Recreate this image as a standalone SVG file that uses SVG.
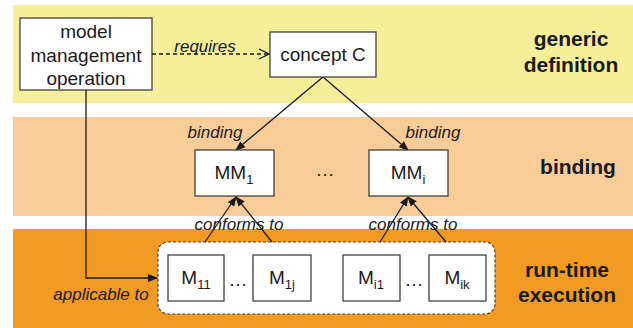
<svg xmlns="http://www.w3.org/2000/svg" width="633" height="328" viewBox="0 0 633 328">
<style>
.box{fill:#fff;stroke:#333;stroke-width:1.2}
.t{font-family:"Liberation Sans",Arial,sans-serif;fill:#1a1a1a;text-anchor:middle}
.n{font-size:19px}
.lab{font-size:17px;font-style:italic}
.band{font-size:21px;font-weight:bold}
.sub{font-size:13px}
.ln{stroke:#1a1a1a;stroke-width:1.3;fill:none}
</style>
<defs>
<marker id="fa" markerWidth="10" markerHeight="8" refX="9" refY="4" orient="auto" markerUnits="userSpaceOnUse">
<path d="M0,0 L10,4 L0,8 Z" fill="#1a1a1a"/>
</marker>
<marker id="oa" markerWidth="12" markerHeight="12" refX="11" refY="6" orient="auto" markerUnits="userSpaceOnUse">
<path d="M1,1 L11,6 L1,11" fill="none" stroke="#1a1a1a" stroke-width="1.3"/>
</marker>
</defs>
<g id="bands">
<rect x="13" y="5" width="620" height="98" fill="#F5EF9A"/>
<rect x="13" y="117" width="620" height="99" fill="#FACC98"/>
<rect x="13" y="229" width="620" height="99" fill="#F39A22"/>
<text class="t band" x="571" y="46">generic</text>
<text class="t band" x="571" y="72">definition</text>
<text class="t band" x="578" y="174">binding</text>
<text class="t band" x="567" y="277">run-time</text>
<text class="t band" x="567" y="302">execution</text>
</g>
<g id="container">
<rect x="158" y="242" width="337" height="72" rx="10" fill="#fff" stroke="#444" stroke-width="1.2" stroke-dasharray="3,2"/>
</g>
<g id="connectors">
<line class="ln" x1="152" y1="54" x2="269" y2="54" stroke-dasharray="4,3" marker-end="url(#oa)"/>
<text class="t lab" x="205" y="52">requires</text>
<line class="ln" x1="323" y1="77" x2="236" y2="150" marker-end="url(#fa)"/>
<line class="ln" x1="323" y1="77" x2="408" y2="150" marker-end="url(#fa)"/>
<text class="t lab" x="215" y="138">binding</text>
<text class="t lab" x="433" y="138">binding</text>
<line class="ln" x1="205" y1="242" x2="236" y2="197" marker-end="url(#fa)"/>
<line class="ln" x1="272" y1="242" x2="236" y2="197" marker-end="url(#fa)"/>
<line class="ln" x1="380" y1="242" x2="408" y2="197" marker-end="url(#fa)"/>
<line class="ln" x1="446" y1="242" x2="408" y2="197" marker-end="url(#fa)"/>
<text class="t lab" x="239" y="230">conforms to</text>
<text class="t lab" x="413" y="230">conforms to</text>
<path class="ln" d="M86,90 V278 H157" marker-end="url(#fa)"/>
<text class="t lab" x="101" y="300">applicable to</text>
</g>
<g id="op">
<rect class="box" x="20" y="18" width="132" height="72"/>
<text class="t n" x="86" y="38">model</text>
<text class="t n" x="86" y="62">management</text>
<text class="t n" x="86" y="85">operation</text>
</g>
<g id="conceptC">
<rect class="box" x="270" y="32" width="106" height="45"/>
<text class="t n" x="323" y="61">concept C</text>
</g>
<g id="MM1">
<rect class="box" x="195" y="150" width="79" height="46"/>
<text class="t n" x="234" y="179">MM<tspan class="sub" dy="5">1</tspan></text>
</g>
<text class="t n" x="325" y="176">…</text>
<g id="MMi">
<rect class="box" x="369" y="150" width="79" height="46"/>
<text class="t n" x="408" y="179">MM<tspan class="sub" dy="5">i</tspan></text>
</g>
<g id="M11">
<rect class="box" x="168" y="255" width="56" height="46"/>
<text class="t n" x="196" y="284">M<tspan class="sub" dy="5">11</tspan></text>
</g>
<text class="t n" x="238" y="286">…</text>
<g id="M1j">
<rect class="box" x="253" y="255" width="58" height="46"/>
<text class="t n" x="282" y="284">M<tspan class="sub" dy="5">1j</tspan></text>
</g>
<g id="Mi1">
<rect class="box" x="343" y="255" width="57" height="46"/>
<text class="t n" x="371" y="284">M<tspan class="sub" dy="5">i1</tspan></text>
</g>
<text class="t n" x="414" y="286">…</text>
<g id="Mik">
<rect class="box" x="429" y="255" width="57" height="46"/>
<text class="t n" x="457" y="284">M<tspan class="sub" dy="5">ik</tspan></text>
</g>
</svg>
